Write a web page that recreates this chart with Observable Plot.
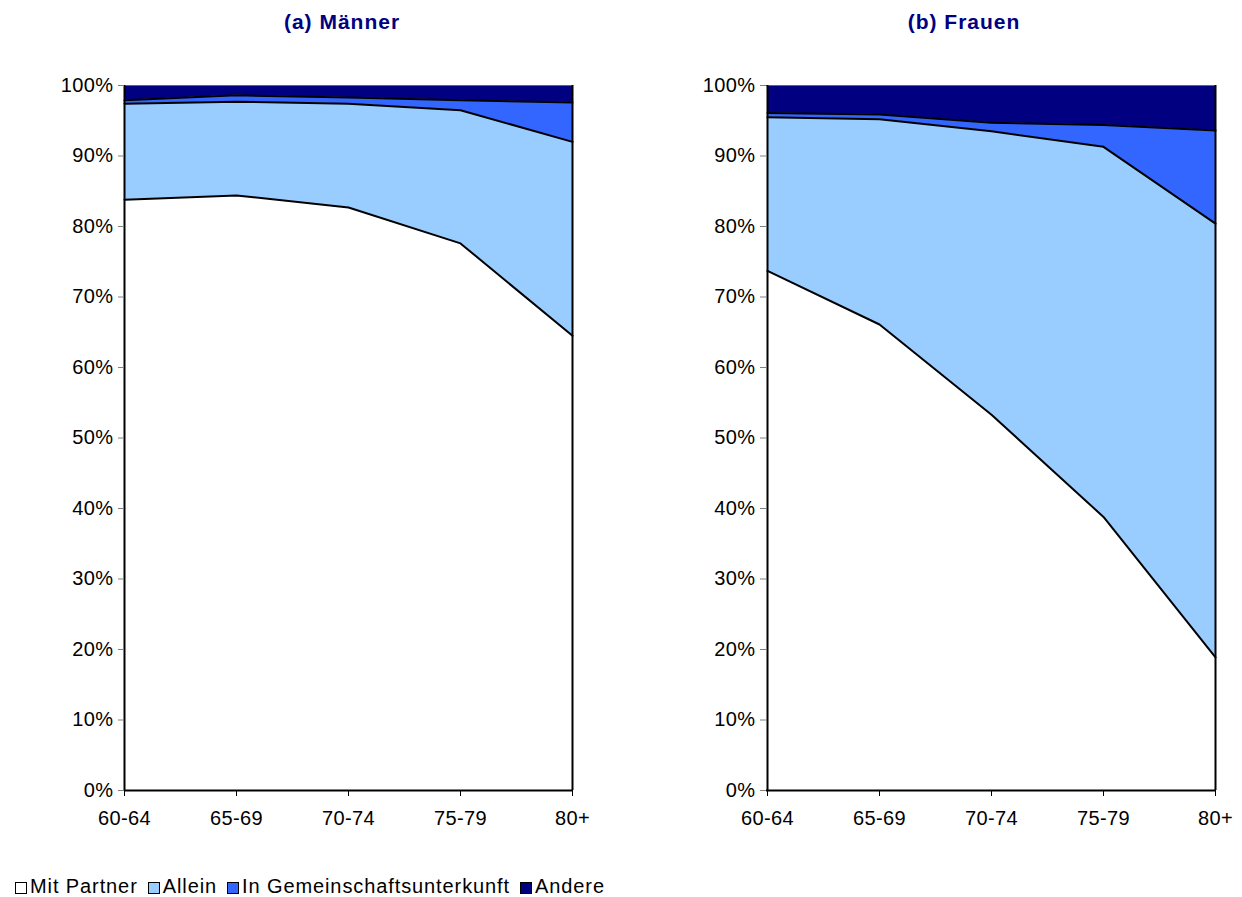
<!DOCTYPE html>
<html>
<head>
<meta charset="utf-8">
<script src="https://cdn.jsdelivr.net/npm/d3@7"></script>
<script src="https://cdn.jsdelivr.net/npm/@observablehq/plot@0.6"></script>
<style>
  body { margin:0; width:1242px; height:897px; position:relative; background:#fff; font-family:"Liberation Sans", Arial, sans-serif; overflow:hidden; }
  .title { position:absolute; top:10px; width:300px; text-align:center; font-weight:bold; font-size:21px; letter-spacing:1px; color:#000080; line-height:24px; }
  .panel { position:absolute; top:0; }
  #legend { position:absolute; left:15px; top:874px; display:flex; align-items:center; font-size:20px; letter-spacing:0.9px; color:#000; line-height:24px; }
  .item { display:flex; align-items:center; margin-right:10px; }
  .sw { width:10px; height:10px; border:1px solid #000; margin-right:3px; margin-top:4px; }
</style>
</head>
<body>
<div class="title" style="left:192px">(a) Männer</div>
<div class="title" style="left:814px">(b) Frauen</div>
<div id="c1" class="panel" style="left:0"></div>
<div id="c2" class="panel" style="left:621px"></div>
<div id="legend"></div>
<script>
const ageGroups = ["60-64", "65-69", "70-74", "75-79", "80+"];
const categories = ["Mit Partner", "Allein", "In Gemeinschaftsunterkunft", "Andere"];
const colors = ["#FFFFFF", "#99CCFF", "#3366FF", "#000080"];
const yTicks = [0, 10, 20, 30, 40, 50, 60, 70, 80, 90, 100];

// (a) Männer — shares in %
const maennerMitPartner = [83.8, 84.4, 82.7, 77.6, 64.5];
const maennerAllein = [13.6, 13.3, 14.7, 18.9, 27.5];
const maennerGemeinschaft = [0.5, 0.9, 0.9, 1.4, 5.6];
const maennerAndere = [2.1, 1.4, 1.7, 2.1, 2.4];

// (b) Frauen — shares in %
const frauenMitPartner = [73.7, 66.1, 53.3, 38.8, 18.9];
const frauenAllein = [21.8, 29.1, 40.2, 52.5, 61.5];
const frauenGemeinschaft = [0.6, 0.7, 1.2, 3.1, 13.2];
const frauenAndere = [3.9, 4.1, 5.3, 5.6, 6.4];

function rowsOf(series) {
  const rows = [];
  series.forEach((vals, ci) => vals.forEach((v, i) => rows.push({age: ageGroups[i], cat: categories[ci], value: v})));
  return rows;
}

function panel(series, marginLeft, marginRight) {
  const rows = rowsOf(series);
  return Plot.plot({
    width: 621,
    height: 840,
    marginLeft, marginRight,
    marginTop: 85,
    marginBottom: 50,
    style: {fontFamily: "'Liberation Sans', Arial, sans-serif", fontSize: "20px", letterSpacing: "0.4px", color: "#000", background: "transparent"},
    x: {type: "point", domain: ageGroups, padding: 0},
    y: {domain: [0, 100]},
    color: {domain: categories, range: colors},
    marks: [
      Plot.areaY(rows, {x: "age", y: "value", fill: "cat", z: "cat", order: categories}),
      Plot.ruleY([100], {stroke: "#666", strokeWidth: 1}),
      Plot.lineY(rows.filter(d => d.cat !== "Andere"),
        Plot.stackY2({x: "age", y: "value", z: "cat", order: categories, stroke: "#000", strokeWidth: 2})),
      Plot.ruleX([ageGroups[ageGroups.length - 1]], {stroke: "#000", strokeWidth: 2}),
      Plot.ruleX([ageGroups[0]], {stroke: "#000", strokeWidth: 2}),
      Plot.ruleY([0], {stroke: "#000", strokeWidth: 2}),
      Plot.axisY({ticks: yTicks, tickFormat: d => d + "%", tickSize: 6, tickPadding: 5, stroke: "#808080", fill: "#000", label: null}),
      Plot.axisX({tickSize: 6, tickPadding: 14, stroke: "#000", fill: "#000", label: null})
    ]
  });
}

document.getElementById("c1").append(panel([maennerMitPartner, maennerAllein, maennerGemeinschaft, maennerAndere], 124, 49));
document.getElementById("c2").append(panel([frauenMitPartner, frauenAllein, frauenGemeinschaft, frauenAndere], 145, 26));

const legend = document.getElementById("legend");
categories.forEach((c, i) => {
  const item = document.createElement("div");
  item.className = "item";
  const sw = document.createElement("div");
  sw.className = "sw";
  sw.style.background = colors[i];
  const t = document.createElement("span");
  t.textContent = c;
  item.append(sw, t);
  legend.append(item);
});
</script>
</body>
</html>
